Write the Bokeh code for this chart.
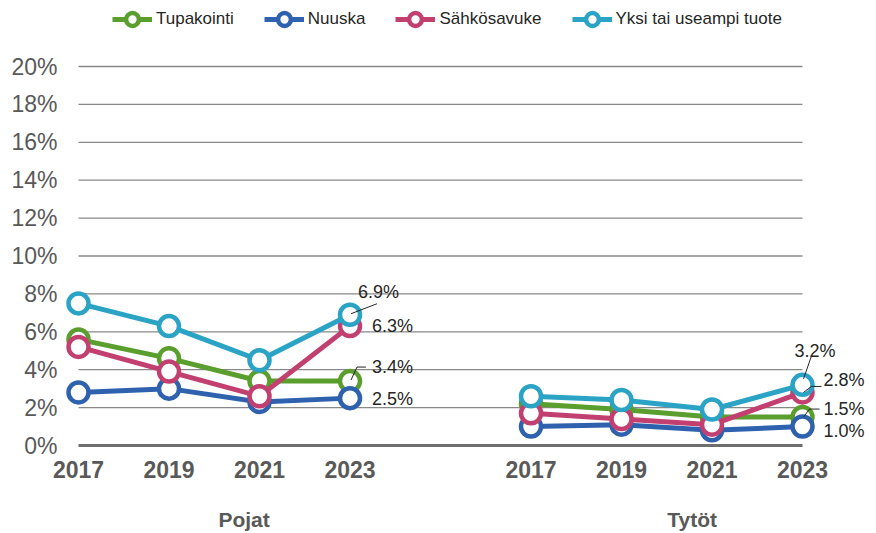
import numpy as np
from bokeh.plotting import figure
from bokeh.models import FixedTicker, LinearAxis, Legend, LegendItem, Range1d, ColumnDataSource
from bokeh.core.properties import value
from bokeh.embed import file_html
from bokeh.resources import INLINE

# ---------------- data ----------------
years = ["2017", "2019", "2021", "2023"]
groups = ["Pojat", "Tytöt"]
series_names = ["Tupakointi", "Nuuska", "Sähkösavuke", "Yksi tai useampi tuote"]

tupakointi_pojat = [5.6, 4.6, 3.4, 3.4]
tupakointi_tytot = [2.2, 1.9, 1.5, 1.5]
nuuska_pojat = [2.8, 3.0, 2.3, 2.5]
nuuska_tytot = [1.0, 1.1, 0.8, 1.0]
sahko_pojat = [5.2, 3.9, 2.6, 6.3]
sahko_tytot = [1.7, 1.4, 1.1, 2.8]
yksi_pojat = [7.5, 6.3, 4.5, 6.9]
yksi_tytot = [2.6, 2.4, 1.9, 3.2]

y_ticks = list(range(0, 21, 2))

# ---------------- styles ----------------
colors = ["#5A9E2E", "#2F62AE", "#C2406F", "#2AA3C5"]
PX_X = 90.5   # pixels per category slot
PX_Y = 18.95  # pixels per percentage point
W, H = 876, 533
LEFT, RIGHT, TOP, BOTTOM = 62, 2, 0, 80

# x positions: Pojat 0..3, gap at 4, Tytöt 5..8
x_pojat = [0, 1, 2, 3]
x_tytot = [5, 6, 7, 8]
x_all = x_pojat + [4] + x_tytot

frame_w = W - LEFT - RIGHT
frame_h = H - TOP - BOTTOM
p = figure(width=W, height=H, output_backend="svg", toolbar_location=None,
           x_range=Range1d(-16 / PX_X, -16 / PX_X + frame_w / PX_X),
           y_range=Range1d(20 + 66 / PX_Y - frame_h / PX_Y, 20 + 66 / PX_Y),
           min_border_left=LEFT, min_border_right=RIGHT, min_border_top=TOP,
           min_border_bottom=BOTTOM)
p.outline_line_color = None
p.xgrid.visible = False
p.ygrid.visible = False
p.background_fill_color = "white"

# gridlines from first to last category
grid_y = [t for t in y_ticks if t > 0]
p.segment(x0=[x_all[0]] * len(grid_y), x1=[x_all[-1]] * len(grid_y), y0=grid_y, y1=grid_y,
          line_color="#888888", line_width=1.3)
p.segment(x0=[x_all[0]], x1=[x_all[-1]], y0=[0], y1=[0], line_color="#6e6e6e", line_width=3)

def clean(ax):
    ax.axis_line_color = None
    ax.major_tick_line_color = None
    ax.minor_tick_line_color = None
    ax.major_tick_out = 0
    ax.major_tick_in = 0
    ax.minor_tick_out = 0
    ax.minor_tick_in = 0

# y axis
p.yaxis.ticker = FixedTicker(ticks=y_ticks)
p.yaxis.major_label_overrides = {t: f"{t}%" for t in y_ticks}
clean(p.yaxis[0])
p.yaxis.major_label_text_font = "Liberation Sans"
p.yaxis.major_label_text_font_size = "23px"
p.yaxis.major_label_text_color = "#595959"
p.yaxis.major_label_standoff = 5

# x axis (years)
tick_pos = x_pojat + x_tytot
p.xaxis.ticker = FixedTicker(ticks=tick_pos)
p.xaxis.major_label_overrides = {x: y for x, y in zip(tick_pos, years + years)}
clean(p.xaxis[0])
p.xaxis.major_label_text_font = "Liberation Sans"
p.xaxis.major_label_text_font_style = "bold"
p.xaxis.major_label_text_font_size = "23px"
p.xaxis.major_label_text_color = "#595959"
p.xaxis.major_label_standoff = 7

# group axis
group_pos = [1.83, 6.78]
gaxis = LinearAxis(ticker=FixedTicker(ticks=group_pos),
                   major_label_overrides={g: n for g, n in zip(group_pos, groups)})
clean(gaxis)
gaxis.major_label_text_font = "Liberation Sans"
gaxis.major_label_text_font_style = "bold"
gaxis.major_label_text_font_size = "21px"
gaxis.major_label_text_color = "#595959"
gaxis.major_label_standoff = 27
p.add_layout(gaxis, "below")

# series
series = [
    (tupakointi_pojat, tupakointi_tytot),
    (nuuska_pojat, nuuska_tytot),
    (sahko_pojat, sahko_tytot),
    (yksi_pojat, yksi_tytot),
]
items = []
for name, (pv, tv), c in zip(series_names, series, colors):
    yv = list(pv) + [np.nan] + list(tv)
    lr = p.line(x_all, yv, line_color=c, line_width=5)
    sr = p.scatter(x_all, yv, marker="circle", size=20, fill_color="white",
                   line_color=c, line_width=4.5)
    items.append(LegendItem(label=name, renderers=[lr, sr]))

# data labels for 2023 values
lab_vals = [yksi_pojat[3], sahko_pojat[3], tupakointi_pojat[3], nuuska_pojat[3],
            yksi_tytot[3], sahko_tytot[3], tupakointi_tytot[3], nuuska_tytot[3]]
lab_x = [x_pojat[3]] * 4 + [x_tytot[3]] * 4
lab_dx = [8, 22, 22, 22, -8, 21, 21, 21]
lab_dy = [-23, 0, -14, 1, -34, -12, -8, 4]
src = ColumnDataSource(dict(x=lab_x, y=lab_vals, t=[f"{v:.1f}%" for v in lab_vals],
                            dx=lab_dx, dy=lab_dy))
p.text(x="x", y="y", text="t", x_offset="dx", y_offset="dy", source=src,
       text_font=value("Liberation Sans"), text_font_size="18px", text_color="#262626",
       text_align="left", text_baseline="middle")

# leader lines (pixel paths relative to their point)
leaders = [
    (x_pojat[3], yksi_pojat[3], [(1, -1), (27, -11)]),
    (x_pojat[3], tupakointi_pojat[3], [(1, -1), (7, -14), (16, -14)]),
    (x_tytot[3], yksi_tytot[3], [(1, -6), (9, -29)]),
    (x_tytot[3], sahko_tytot[3], [(1, 0), (9, -6), (19, -6)]),
    (x_tytot[3], tupakointi_tytot[3], [(1, 0), (7, -8), (17, -8)]),
]
lx, ly = [], []
for x0, y0, path in leaders:
    lx.append([x0 + dx / PX_X for dx, dy in path])
    ly.append([y0 - dy / PX_Y for dx, dy in path])
p.multi_line(lx, ly, line_color="#262626", line_width=1)

legend = Legend(items=items, orientation="horizontal", location=(50, frame_h - 35),
                glyph_width=40, glyph_height=32, label_standoff=4, spacing=30,
                padding=0, margin=0, border_line_color=None, background_fill_alpha=0,
                label_text_font="Liberation Sans", label_text_font_size="17px",
                label_text_color="#262626")
p.add_layout(legend)

open("out.html", "w").write(file_html(p, INLINE))
